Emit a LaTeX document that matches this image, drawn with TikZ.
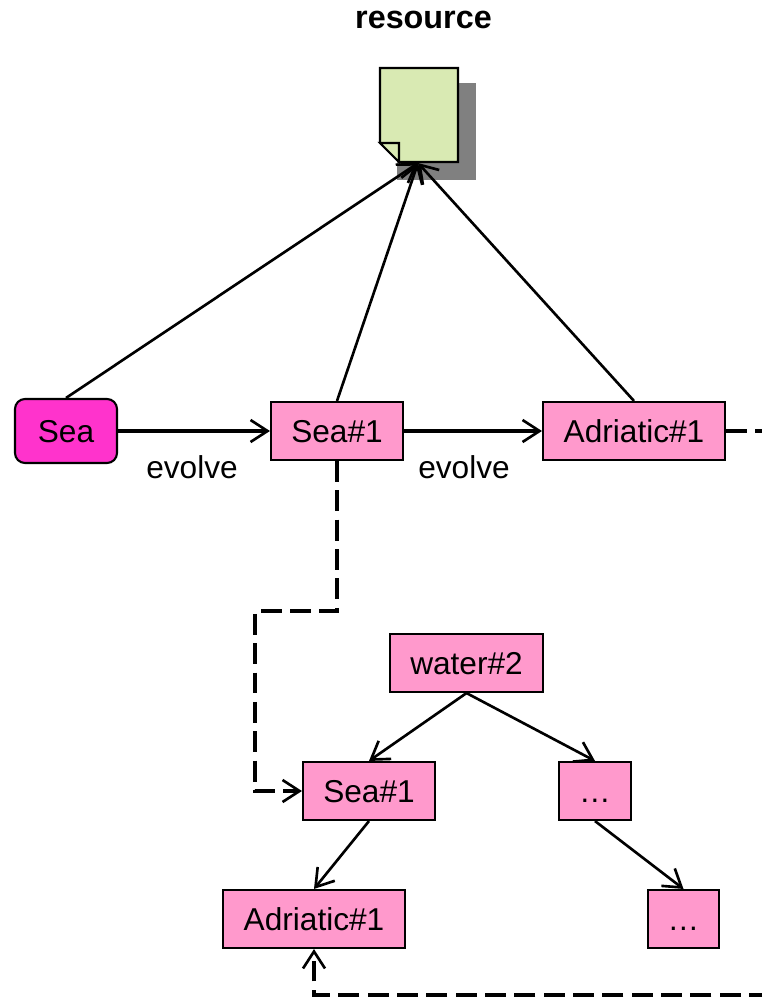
\documentclass[tikz,border=0pt]{standalone}
\usepackage{fontspec}
\setmainfont{Liberation Sans}
\usetikzlibrary{arrows.meta}
\definecolor{sense}{HTML}{FF99CC}
\definecolor{lemma}{HTML}{FF33CC}
\definecolor{paper}{HTML}{D9EAB3}
\tikzset{
  sensebox/.style={draw=black,line width=1.2pt,fill=sense,minimum height=1.16cm,inner sep=0pt,text height=0.5cm,text depth=0.06cm,font=\fontsize{18}{20}\selectfont},
  lemmabox/.style={sensebox,fill=lemma,rounded corners=0.2cm,minimum height=1.28cm},
  lbl/.style={inner sep=0pt,font=\fontsize{18}{20}\selectfont},
  link/.style={line width=1.5pt,-{Straight Barb[length=0.34cm,width=0.44cm,line width=1.5pt]}},
  flatlink/.style={link,line width=1.75pt},
  dlink/.style={flatlink,dash pattern=on 0.42cm off 0.167cm},
  dline/.style={line width=1.75pt,dash pattern=on 0.42cm off 0.167cm}
}
\begin{document}
\begin{tikzpicture}[x=0.02cm,y=-0.02cm]
\useasboundingbox (0,0) rectangle (762,997);
\node[lbl,font=\fontsize{18.4}{20}\selectfont\bfseries] (title) at (423.5,20) {resource};
% document icon
\fill[black!50] (397,83) rectangle (476,180);
\draw[fill=paper,line width=1.2pt] (380,68) -- (458,68) -- (458,162) -- (399,162) -- (380,143) -- cycle;
\draw[fill=paper,line width=1.2pt] (380,143) -- (399,143) -- (399,162) -- cycle;
\coordinate (doc) at (418,163);
% top row
\node[lemmabox,minimum width=2.04cm] (sea) at (66,431) {Sea};
\node[sensebox,minimum width=2.64cm] (seaone) at (337,431) {Sea\#1};
\node[sensebox,minimum width=3.64cm] (adr) at (634,431) {Adriatic\#1};
\node[lbl] (evolvea) at (192,467) {evolve};
\node[lbl] (evolveb) at (464,467) {evolve};
% tree
\node[sensebox,minimum width=3.06cm] (water) at (466.5,663) {water\#2};
\node[sensebox,minimum width=2.64cm] (seatwo) at (369,791) {Sea\#1};
\node[sensebox,minimum width=1.44cm] (dotsa) at (595,791) {…};
\node[sensebox,minimum width=3.64cm] (adrtwo) at (314,919) {Adriatic\#1};
\node[sensebox,minimum width=1.42cm] (dotsb) at (683.5,919) {…};
\coordinate (bendone) at (337,611);
\coordinate (bendtwo) at (255,611);
\coordinate (bendthree) at (255,791);
\coordinate (bendfour) at (314,995);
\coordinate (rightend) at (762,995);
\coordinate (adrend) at (762,431);

\draw[link] (sea.north) -- (doc);
\draw[link] (seaone.north) -- (doc);
\draw[link] (adr.north) -- (doc);
\draw[flatlink] (sea.east) -- (seaone.west);
\draw[flatlink] (seaone.east) -- (adr.west);
\draw[dline] (adr.east) -- (adrend);
\draw[dlink] (seaone.south) -- (bendone) -- (bendtwo) -- (bendthree) -- (seatwo.west);
\draw[link] (water.south) -- (seatwo.north);
\draw[link] (water.south) -- (dotsa.north);
\draw[link] (seatwo.south) -- (adrtwo.north);
\draw[link] (dotsa.south) -- (dotsb.north);
\draw[dlink,dash phase=0.16cm] (rightend) -- (bendfour) -- (adrtwo.south);
\end{tikzpicture}
\end{document}
